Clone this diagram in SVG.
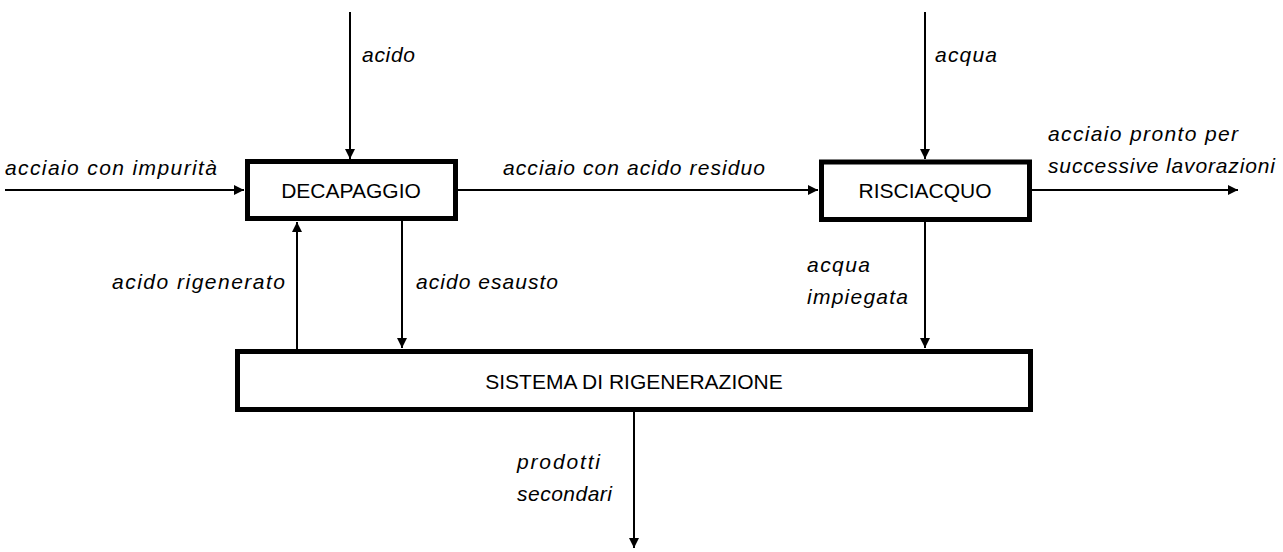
<svg xmlns="http://www.w3.org/2000/svg" width="1283" height="552" viewBox="0 0 1283 552">
<style>
.box{fill:#fff;stroke:#000;stroke-width:5}
.ln{fill:none;stroke:#000;stroke-width:2}
.lbl{font-family:"Liberation Sans",Arial,sans-serif;font-style:italic;font-size:21px;fill:#000}
.nt{font-family:"Liberation Sans",Arial,sans-serif;font-size:21px;fill:#000;text-anchor:middle}
</style>
<defs>
<marker id="ah" viewBox="0 0 10 10" refX="10" refY="5" markerWidth="10" markerHeight="10" markerUnits="userSpaceOnUse" orient="auto">
<path d="M0,0 L10,5 L0,10 z" fill="#000"/>
</marker>
</defs>
<g id="connectors">
<line class="ln" x1="350" y1="12" x2="350" y2="159" marker-end="url(#ah)"/>
<line class="ln" x1="925" y1="12" x2="925" y2="159" marker-end="url(#ah)"/>
<line class="ln" x1="5" y1="190" x2="244" y2="190" marker-end="url(#ah)"/>
<line class="ln" x1="458" y1="190" x2="818" y2="190" marker-end="url(#ah)"/>
<line class="ln" x1="1032" y1="190" x2="1238" y2="190" marker-end="url(#ah)"/>
<line class="ln" x1="297" y1="349" x2="297" y2="222" marker-end="url(#ah)"/>
<line class="ln" x1="402" y1="221" x2="402" y2="348" marker-end="url(#ah)"/>
<line class="ln" x1="925" y1="222" x2="925" y2="348" marker-end="url(#ah)"/>
<line class="ln" x1="634" y1="412" x2="634" y2="548" marker-end="url(#ah)"/>
</g>
<g id="labels">
<text class="lbl" x="362" y="62" textLength="53" lengthAdjust="spacing">acido</text>
<text class="lbl" x="935" y="62" textLength="62" lengthAdjust="spacing">acqua</text>
<text class="lbl" x="5" y="175" textLength="212" lengthAdjust="spacing">acciaio con impurità</text>
<text class="lbl" x="503" y="175" textLength="262" lengthAdjust="spacing">acciaio con acido residuo</text>
<text class="lbl" x="1048" y="141" textLength="190" lengthAdjust="spacing">acciaio pronto per</text>
<text class="lbl" x="1048" y="173" textLength="227" lengthAdjust="spacing">successive lavorazioni</text>
<text class="lbl" x="112" y="289" textLength="173" lengthAdjust="spacing">acido rigenerato</text>
<text class="lbl" x="416" y="289" textLength="142" lengthAdjust="spacing">acido esausto</text>
<text class="lbl" x="807" y="272" textLength="63" lengthAdjust="spacing">acqua</text>
<text class="lbl" x="807" y="304" textLength="101" lengthAdjust="spacing">impiegata</text>
<text class="lbl" x="517" y="469" textLength="83" lengthAdjust="spacing">prodotti</text>
<text class="lbl" x="517" y="501" textLength="95" lengthAdjust="spacing">secondari</text>
</g>
<g id="decapaggio">
<rect class="box" x="247.5" y="161.5" width="208" height="57"/>
<text class="nt" x="351" y="198">DECAPAGGIO</text>
</g>
<g id="risciacquo">
<rect class="box" x="821.5" y="162" width="208" height="57.5"/>
<text class="nt" x="925" y="198">RISCIACQUO</text>
</g>
<g id="sistema">
<rect class="box" x="237.5" y="351.5" width="793" height="58"/>
<text class="nt" x="634" y="389">SISTEMA DI RIGENERAZIONE</text>
</g>
</svg>
